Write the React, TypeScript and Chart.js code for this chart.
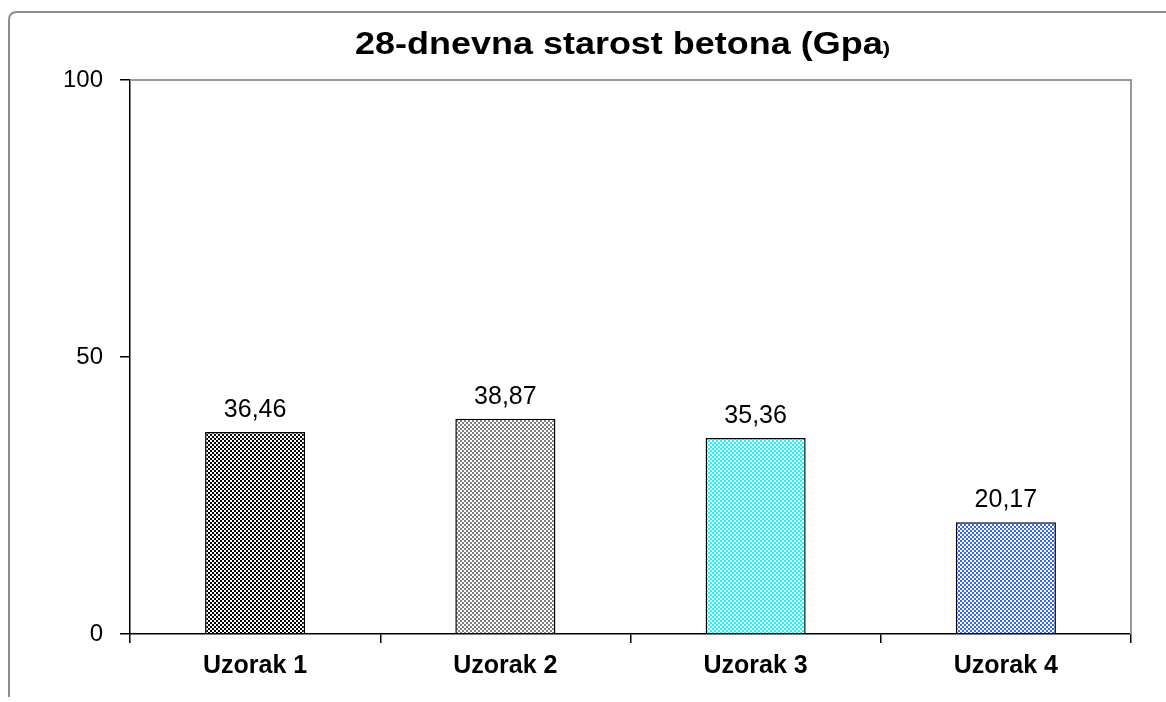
import { useEffect, useRef } from 'react';
import { Chart, registerables } from 'chart.js';
Chart.register(...registerables);

const categories = ['Uzorak 1', 'Uzorak 2', 'Uzorak 3', 'Uzorak 4'];
const values = [36.46, 38.87, 35.36, 20.17];
const valueLabels = ['36,46', '38,87', '35,36', '20,17'];
const barColors = ['#000000', '#808080', '#00ffff', '#3366ff'];
const yTicks = [0, 50, 100];
const titleMain = '28-dnevna starost betona (Gpa';
const titleTail = ')';

const FONT = '"Liberation Sans", Arial, sans-serif';

function makePattern(color: string): CanvasPattern | string {
  const c = document.createElement('canvas');
  c.width = 4;
  c.height = 4;
  const g = c.getContext('2d');
  if (!g) return color;
  g.fillStyle = '#ffffff';
  g.fillRect(0, 0, 4, 4);
  g.fillStyle = color;
  g.fillRect(0, 0, 2, 2);
  g.fillRect(2, 2, 2, 2);
  const p = g.createPattern(c, 'repeat');
  return p || color;
}

const framePlugin = {
  id: 'frame',
  beforeDraw(chart: any) {
    const ctx = chart.ctx;
    ctx.save();
    ctx.fillStyle = '#ffffff';
    ctx.fillRect(0, 0, chart.width, chart.height);
    ctx.strokeStyle = '#8c8c8c';
    ctx.lineWidth = 2;
    const x = 9, y = 12, w = chart.width + 20, h = 685, r = 8;
    ctx.beginPath();
    ctx.moveTo(x + r, y);
    ctx.lineTo(x + w, y);
    ctx.moveTo(x, y + r);
    ctx.lineTo(x, y + h);
    ctx.moveTo(x, y + r);
    ctx.quadraticCurveTo(x, y, x + r, y);
    ctx.stroke();
    ctx.restore();
  },
  afterDatasetsDraw(chart: any) {
    const ctx = chart.ctx;
    const a = chart.chartArea;
    ctx.save();
    ctx.strokeStyle = '#999999';
    ctx.lineWidth = 2;
    ctx.beginPath();
    ctx.moveTo(a.left, a.top);
    ctx.lineTo(a.right, a.top);
    ctx.lineTo(a.right, a.bottom);
    ctx.stroke();
    ctx.restore();
  },
};

const titlePlugin = {
  id: 'customTitle',
  afterDraw(chart: any) {
    const ctx = chart.ctx;
    ctx.save();
    ctx.fillStyle = '#000000';
    ctx.textBaseline = 'alphabetic';
    ctx.font = `bold 31px ${FONT}`;
    const w1 = ctx.measureText(titleMain).width;
    ctx.font = `bold 19px ${FONT}`;
    const w2 = ctx.measureText(titleTail).width;
    const total = w1 + w2;
    const target = 535;
    const sx = target / total;
    const left = 355;
    const base = 54;
    ctx.translate(left, base);
    ctx.scale(sx, 1);
    ctx.font = `bold 31px ${FONT}`;
    ctx.fillText(titleMain, 0, 0);
    ctx.font = `bold 19px ${FONT}`;
    ctx.fillText(titleTail, w1, 0);
    ctx.restore();
  },
};

const valueLabelPlugin = {
  id: 'valueLabels',
  afterDatasetsDraw(chart: any) {
    const ctx = chart.ctx;
    const meta = chart.getDatasetMeta(0);
    ctx.save();
    ctx.fillStyle = '#000000';
    ctx.font = `25px ${FONT}`;
    ctx.textAlign = 'center';
    ctx.textBaseline = 'alphabetic';
    meta.data.forEach((el: any, i: number) => {
      ctx.fillText(valueLabels[i], el.x, el.y - 15);
    });
    ctx.restore();
  },
};

export default function App() {
  const ref = useRef<HTMLCanvasElement | null>(null);
  useEffect(() => {
    if (!ref.current) return;
    const chart = new Chart(ref.current, {
      type: 'bar',
      data: {
        labels: categories,
        datasets: [
          {
            data: values,
            backgroundColor: barColors.map((c) => makePattern(c)) as any,
            borderColor: '#000000',
            borderWidth: 1.5,
            categoryPercentage: 1,
            barPercentage: 0.4,
          },
        ],
      },
      options: {
        responsive: false,
        animation: false,
        layout: { padding: { top: 80, right: 35, left: 0, bottom: 0 } },
        plugins: {
          legend: { display: false },
          title: { display: false },
          tooltip: { enabled: false },
        },
        scales: {
          x: {
            afterFit: (s: any) => {
              s.height = 68;
            },
            grid: {
              drawOnChartArea: false,
              drawTicks: true,
              tickLength: 9,
              color: '#000000',
              lineWidth: 1.5,
            },
            border: { color: '#000000', width: 1.5 },
            ticks: {
              color: '#000000',
              font: { family: FONT, size: 25, weight: 'bold' },
              padding: 8,
            },
          },
          y: {
            min: 0,
            max: 100,
            afterFit: (s: any) => {
              s.width = 130;
            },
            afterBuildTicks: (s: any) => {
              s.ticks = yTicks.map((v) => ({ value: v }));
            },
            grid: {
              drawOnChartArea: false,
              drawTicks: true,
              tickLength: 10,
              color: '#000000',
              lineWidth: 1.5,
            },
            border: { color: '#000000', width: 1.5 },
            ticks: {
              color: '#000000',
              font: { family: FONT, size: 24 },
              padding: 17,
            },
          },
        },
      },
      plugins: [framePlugin, titlePlugin, valueLabelPlugin],
    });
    return () => chart.destroy();
  }, []);
  return (
    <div style={{ position: 'absolute', left: 0, top: 0, width: 1166, height: 702 }}>
      <canvas ref={ref} width={1166} height={702} style={{ display: 'block' }} />
    </div>
  );
}
